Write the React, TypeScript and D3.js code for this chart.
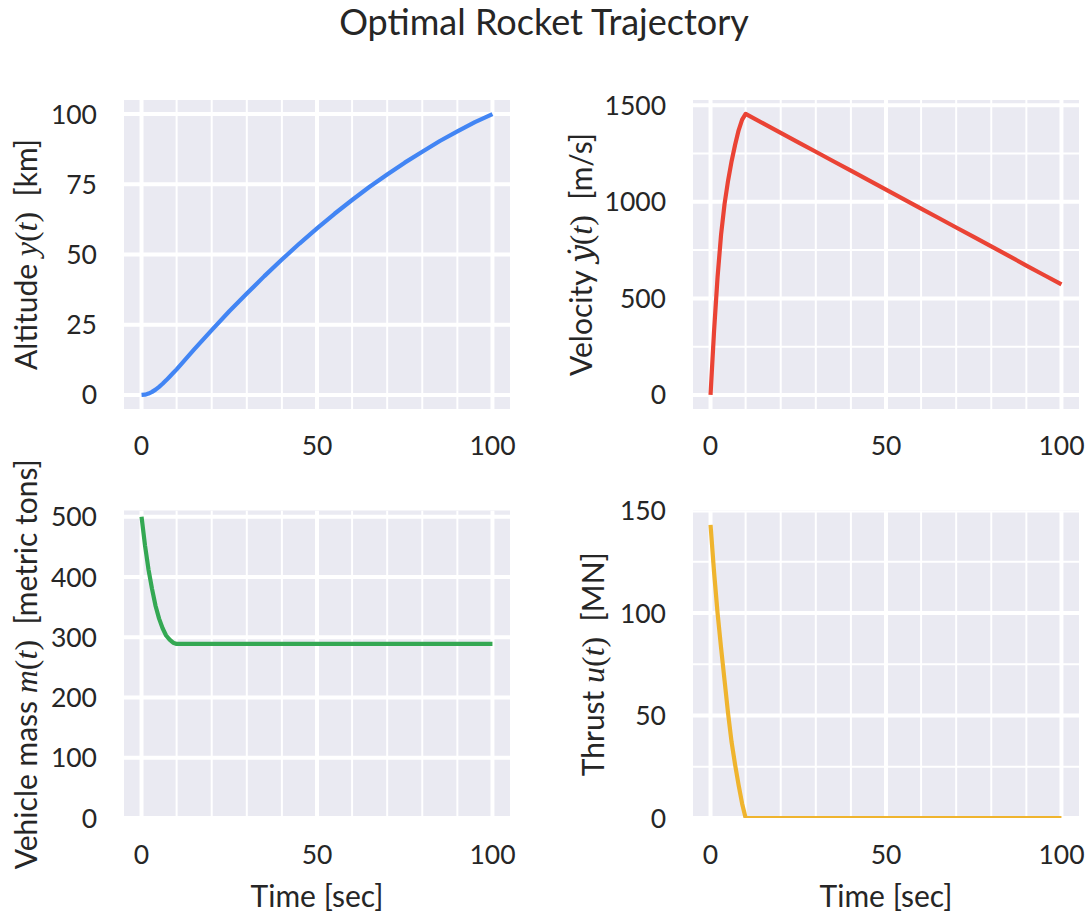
import * as d3 from 'd3';

const time = [0, 1, 2, 3, 4, 5, 6, 7, 8, 9, 10, 15, 20, 25, 30, 35, 40, 45, 50, 55, 60, 65, 70, 75, 80, 85, 90, 95, 100];
const altitude = [0, 0.1, 0.5, 1.1, 1.9, 2.9, 4.0, 5.2, 6.5, 7.8, 9.1, 16.2, 23.1, 29.8, 36.1, 42.3, 48.2, 53.9, 59.3, 64.5, 69.4, 74.1, 78.5, 82.7, 86.6, 90.4, 93.8, 97.1, 100];
const velocity = [0, 330, 610, 830, 990, 1110, 1210, 1295, 1370, 1425, 1455, 1406, 1357, 1308, 1259, 1210, 1161, 1112, 1063, 1014, 965, 916, 867, 818, 769, 720, 670, 621, 572];
const mass = [500, 452, 412, 380, 352, 331, 315, 303, 296, 291, 289, 289, 289, 289, 289, 289, 289, 289, 289, 289, 289, 289, 289, 289, 289, 289, 289, 289, 289];
const thrust = [143, 120, 100, 83, 67, 51, 37, 26, 16, 7, 0, 0, 0, 0, 0, 0, 0, 0, 0, 0, 0, 0, 0, 0, 0, 0, 0, 0, 0];

const timeTicks = [0, 50, 100];
const timeMinor = [10, 20, 30, 40, 60, 70, 80, 90];
const altitudeTicks = [0, 25, 50, 75, 100];
const velocityTicks = [0, 500, 1000, 1500];
const velocityMinor = [250, 750, 1250];
const massTicks = [0, 100, 200, 300, 400, 500];
const thrustTicks = [0, 50, 100, 150];
const thrustMinor = [25, 75, 125];

const BG = '#eaeaf2';
const INK = '#262626';
const FONT = 'Lato, "Open Sans", sans-serif';
const MATH = '"Liberation Serif", "DejaVu Serif", serif';

type Part = { t: string; it?: boolean; m?: boolean; f?: string };

function Label({ parts }: { parts: Part[] }) {
  return (
    <>
      {parts.map((p, i) => (
        <tspan
          key={i}
          fontFamily={p.f || (p.it || p.m ? MATH : FONT)}
          fontStyle={p.it ? 'italic' : 'normal'}
          fontSize={p.it || p.m ? 32 : undefined}
        >
          {p.t}
        </tspan>
      ))}
    </>
  );
}

function Panel(props: any) {
  const { id, left, top, width, height, values, yDomain, yTicks, yMinor, color, ylabel, ylabelX, xlabel } = props;
  const x = d3.scaleLinear().domain([-5, 105]).range([left, left + width]);
  const y = d3.scaleLinear().domain(yDomain).range([top + height, top]);
  const line = d3.line<number>().x((_, i) => x(time[i])).y(d => y(d));
  const bottom = top + height;
  const right = left + width;

  return (
    <g>
      <clipPath id={id}>
        <rect x={left} y={top} width={width} height={height} />
      </clipPath>
      <rect x={left} y={top} width={width} height={height} fill={BG} />
      <g clipPath={`url(#${id})`}>
        {timeMinor.map(t => (
          <line key={'vm' + t} x1={x(t)} x2={x(t)} y1={top} y2={bottom} stroke="#fff" strokeWidth={2} />
        ))}
        {yMinor.map((v: number) => (
          <line key={'hm' + v} x1={left} x2={right} y1={y(v)} y2={y(v)} stroke="#fff" strokeWidth={2} />
        ))}
        {timeTicks.map(t => (
          <line key={'vM' + t} x1={x(t)} x2={x(t)} y1={top} y2={bottom} stroke="#fff" strokeWidth={4} />
        ))}
        {yTicks.map((v: number) => (
          <line key={'hM' + v} x1={left} x2={right} y1={y(v)} y2={y(v)} stroke="#fff" strokeWidth={4} />
        ))}
        <path d={line(values) || ''} fill="none" stroke={color} strokeWidth={4.2} strokeLinejoin="round" />
      </g>
      {yTicks.map((v: number) => (
        <text key={'yl' + v} x={left - 27} y={y(v)} dy="0.36em" textAnchor="end" fontSize={26.5} fill={INK} fontFamily={FONT}>
          {v}
        </text>
      ))}
      {timeTicks.map(t => (
        <text key={'xl' + t} x={x(t)} y={bottom + 46} textAnchor="middle" fontSize={26.5} fill={INK} fontFamily={FONT}>
          {t}
        </text>
      ))}
      <text
        transform={`translate(${ylabelX},${top + height / 2}) rotate(-90)`}
        textAnchor="middle"
        fontSize={30}
        fill={INK}
        fontFamily={FONT}
        style={{ whiteSpace: 'pre' }}
      >
        <Label parts={ylabel} />
      </text>
      {xlabel && (
        <text x={left + width / 2} y={907} textAnchor="middle" fontSize={30} fill={INK} fontFamily={FONT}>
          Time [sec]
        </text>
      )}
    </g>
  );
}

export default function App() {
  const W = 1087, H = 914;
  const colL = 124, colR = 693, pw = 386;
  const rowT = 100, rowB = 510.5;

  return (
    <svg width={W} height={H} style={{ position: 'absolute', left: 0, top: 0, background: '#fff' }}>
      <text x={544} y={35} textAnchor="middle" fontSize={36} fill={INK} fontFamily={FONT}>
        Optimal Rocket Trajectory
      </text>
      <Panel
        id="c1" left={colL} top={rowT} width={pw} height={309}
        values={altitude} yDomain={[-5, 105]} yTicks={altitudeTicks} yMinor={[]}
        color="#4285f4" ylabelX={37}
        ylabel={[{ t: 'Altitude ' }, { t: 'y', it: true }, { t: '(', m: true }, { t: 't', it: true }, { t: ')', m: true }, { t: '  [km]' }]}
      />
      <Panel
        id="c2" left={colR} top={rowT} width={pw} height={309}
        values={velocity} yDomain={[-72.7, 1527]} yTicks={velocityTicks} yMinor={velocityMinor}
        color="#ea4335" ylabelX={592}
        ylabel={[{ t: 'Velocity ' }, { t: '\u1e8f', it: true, f: '"DejaVu Serif", serif' }, { t: '(', m: true }, { t: 't', it: true }, { t: ')', m: true }, { t: '  [m/s]' }]}
      />
      <Panel
        id="c3" left={colL} top={rowB} width={pw} height={307.5}
        values={mass} yDomain={[0, 510.5]} yTicks={massTicks} yMinor={[]}
        color="#34a853" ylabelX={37} xlabel
        ylabel={[{ t: 'Vehicle mass ' }, { t: 'm', it: true }, { t: '(', m: true }, { t: 't', it: true }, { t: ')', m: true }, { t: '  [metric tons]' }]}
      />
      <Panel
        id="c4" left={colR} top={rowB} width={pw} height={307.5}
        values={thrust} yDomain={[0, 150]} yTicks={thrustTicks} yMinor={thrustMinor}
        color="#efb42e" ylabelX={604} xlabel
        ylabel={[{ t: 'Thrust ' }, { t: 'u', it: true }, { t: '(', m: true }, { t: 't', it: true }, { t: ')', m: true }, { t: '  [MN]' }]}
      />
    </svg>
  );
}
